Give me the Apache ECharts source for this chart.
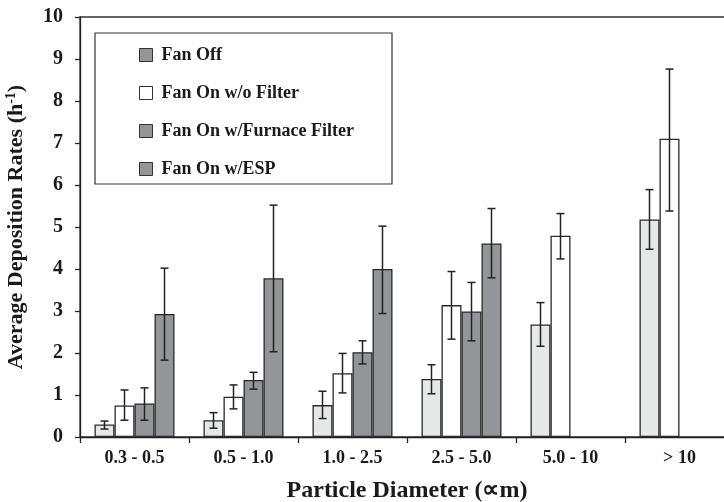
<!DOCTYPE html>
<html>
<head>
<meta charset="utf-8">
<script src="https://cdn.jsdelivr.net/npm/echarts@6/dist/echarts.min.js"></script>
<style>
  html, body { margin: 0; padding: 0; background: #fff; }
  #chart { width: 724px; height: 502px; }
</style>
</head>
<body>
<div id="chart"></div>
<script>
const chart = echarts.init(document.getElementById('chart'));

// --- data ---
const categories = ['0.3 - 0.5', '0.5 - 1.0', '1.0 - 2.5', '2.5 - 5.0', '5.0 - 10', '> 10'];
const seriesNames = ['Fan Off', 'Fan On w/o Filter', 'Fan On w/Furnace Filter', 'Fan On w/ESP'];

const fanOff = [0.30, 0.40, 0.76, 1.38, 2.68, 5.18];
const fanOffLow = [0.19, 0.21, 0.44, 1.03, 2.16, 4.47];
const fanOffHigh = [0.38, 0.58, 1.09, 1.72, 3.20, 5.89];

const noFilter = [0.75, 0.96, 1.52, 3.14, 4.79, 7.10];
const noFilterLow = [0.40, 0.67, 1.05, 2.33, 4.24, 5.38];
const noFilterHigh = [1.12, 1.24, 1.99, 3.94, 5.32, 8.76];

const furnace = [0.80, 1.36, 2.02, 2.99, null, null];
const furnaceLow = [0.40, 1.14, 1.74, 2.29, null, null];
const furnaceHigh = [1.17, 1.54, 2.29, 3.68, null, null];

const esp = [2.93, 3.78, 4.00, 4.61, null, null];
const espLow = [1.83, 2.03, 2.94, 3.79, null, null];
const espHigh = [4.02, 5.52, 5.02, 5.44, null, null];

const values = [fanOff, noFilter, furnace, esp];
const lows = [fanOffLow, noFilterLow, furnaceLow, espLow];
const highs = [fanOffHigh, noFilterHigh, furnaceHigh, espHigh];

const barColors = ['#e6e8e8', '#ffffff', '#939598', '#939598'];
const legendColors = ['#939598', '#ffffff', '#939598', '#939598'];

const BAR_W = 20;
const font = '"Liberation Serif", "Times New Roman", serif';
const ink = '#1a1a1a';

const barSeries = values.map((v, i) => ({
  name: seriesNames[i],
  type: 'bar',
  data: v,
  barWidth: BAR_W,
  barGap: '0%',
  itemStyle: { color: barColors[i], borderColor: '#2a2a2a', borderWidth: 1.3 }
}));

// error bars drawn with custom series, shifted to the matching bar
const errSeries = values.map((v, i) => ({
  type: 'custom',
  name: seriesNames[i] + ' err',
  silent: true,
  z: 10,
  data: categories.map((c, k) => [k, lows[i][k], highs[i][k]]).filter(d => d[1] != null),
  renderItem: function (params, api) {
    const k = api.value(0);
    const lo = api.coord([k, api.value(1)]);
    const hi = api.coord([k, api.value(2)]);
    const x = lo[0] + (i - 1.5) * BAR_W;
    const cap = 4;
    const st = { stroke: '#222', lineWidth: 1.5 };
    return {
      type: 'group',
      children: [
        { type: 'line', shape: { x1: x, y1: lo[1], x2: x, y2: hi[1] }, style: st },
        { type: 'line', shape: { x1: x - cap, y1: lo[1], x2: x + cap, y2: lo[1] }, style: st },
        { type: 'line', shape: { x1: x - cap, y1: hi[1], x2: x + cap, y2: hi[1] }, style: st }
      ]
    };
  }
}));

chart.setOption({
  animation: false,
  textStyle: { fontFamily: font },
  // grid border gives the top frame line (right edge falls off the canvas)
  grid: {
    left: 80, right: -10, top: 17, bottom: 65, outerBoundsMode: 'none',
    show: true, borderColor: '#333', borderWidth: 1.3, backgroundColor: 'transparent'
  },
  legend: {
    orient: 'vertical',
    left: 134,
    top: 41,
    itemWidth: 13,
    itemHeight: 13,
    itemGap: 20,
    icon: 'rect',
    textStyle: { fontFamily: font, fontSize: 18, fontWeight: 'bold', color: ink, padding: [0, 0, 0, 4] },
    data: seriesNames.map((n, i) => ({
      name: n,
      itemStyle: { color: legendColors[i], borderColor: '#333', borderWidth: 1 }
    }))
  },
  graphic: [{
    type: 'rect',
    shape: { x: 95, y: 33, width: 297, height: 151 },
    style: { fill: '#fff', stroke: '#333', lineWidth: 1.2 },
    z: -1
  }],
  xAxis: {
    type: 'category',
    data: categories,
    name: 'Particle Diameter (\u221Dm)',
    nameLocation: 'middle',
    nameGap: 42,
    nameTextStyle: { fontFamily: font, fontSize: 24, fontWeight: 'bold', color: ink },
    axisLine: { lineStyle: { color: '#222', width: 1.3 } },
    axisTick: { show: true, length: 6, lineStyle: { color: '#222', width: 1.3 } },
    axisLabel: { margin: 12, fontFamily: font, fontSize: 18, fontWeight: 'bold', color: ink }
  },
  yAxis: {
    type: 'value',
    min: 0,
    max: 10,
    interval: 1,
    name: 'Average Deposition Rates (h{sup|-1})',
    nameLocation: 'middle',
    nameGap: 52,
    nameRotate: 90,
    nameTextStyle: {
      fontFamily: font, fontSize: 22, fontWeight: 'bold', color: ink,
      rich: { sup: { fontFamily: font, fontSize: 14, fontWeight: 'bold', color: ink, verticalAlign: 'top', padding: [0, 0, 10, 0] } }
    },
    splitLine: { show: false },
    axisLine: { show: true, lineStyle: { color: '#222', width: 1.3 } },
    axisTick: { show: true, length: 5, lineStyle: { color: '#222', width: 1.3 } },
    axisLabel: { margin: 17, fontFamily: font, fontSize: 20, fontWeight: 'bold', color: ink }
  },
  series: [...barSeries, ...errSeries]
});
</script>
</body>
</html>
